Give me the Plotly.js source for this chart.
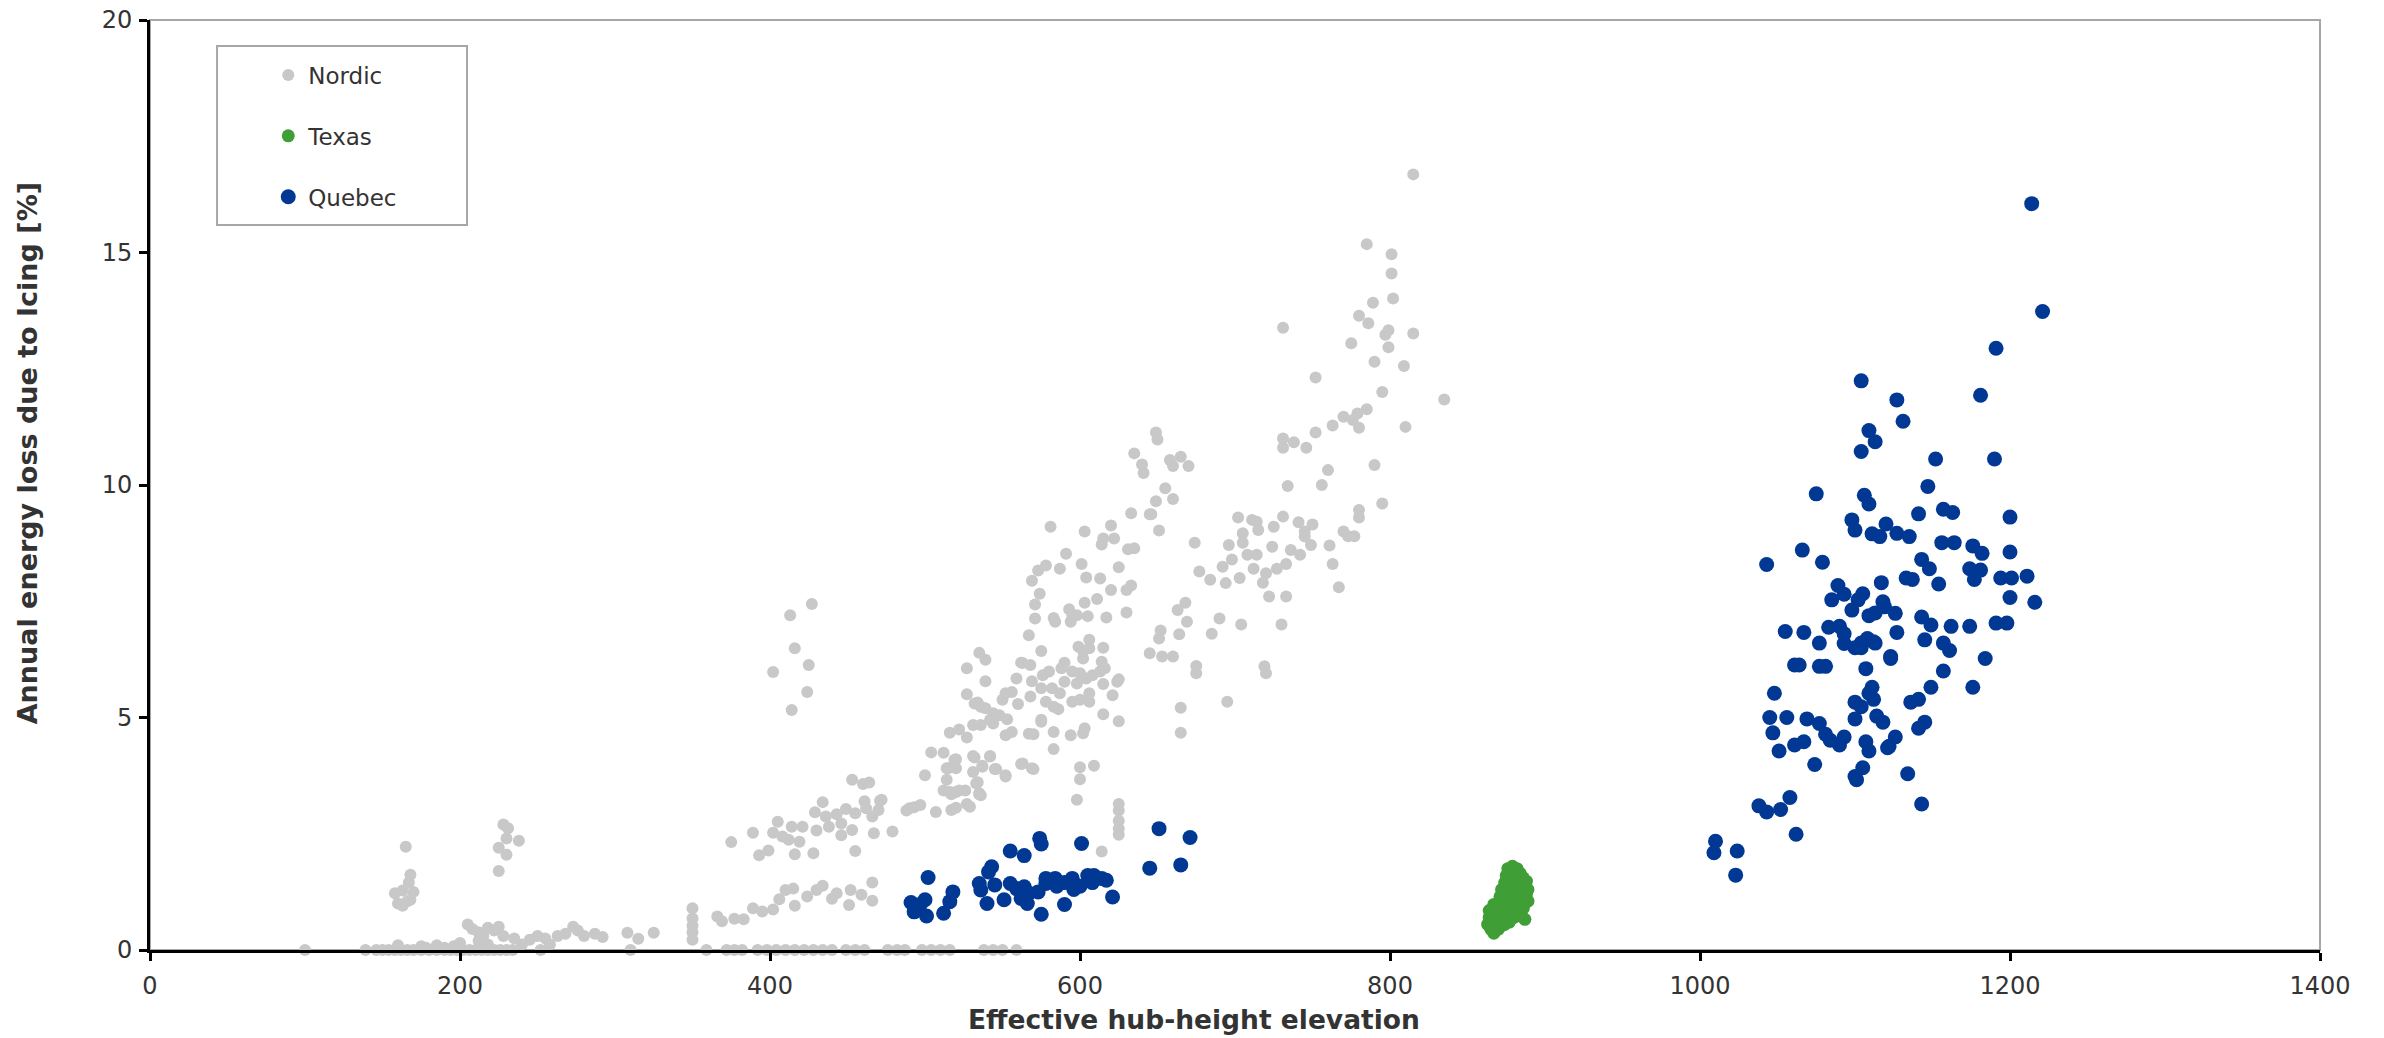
<!DOCTYPE html>
<html>
<head>
<meta charset="utf-8">
<script src="https://cdn.plot.ly/plotly-3.0.1.min.js"></script>
<style>html,body{margin:0;padding:0;background:#fff;}#chart{width:2384px;height:1038px;}</style>
</head>
<body>
<div id="chart"></div>
<script>
// ---------------- Data ----------------
const seriesNames = ["Nordic", "Texas", "Quebec"];

const nordicElev = [
  100,139,146,150,154,158,162,166,170,175,180,185,190,194,198,202,206,210,214,218,222,226,230,234,252,310,359,372,377,382,392,398,404,410,416,422,428,434,440,449,455,461,476,482,487,498,504,510,516,538,544,550,559,
  165,168,167,163,170,160,163,168,166,158,160,175,178,185,190,200,205,208,212,215,218,222,225,228,212,218,196,235,240,245,250,255,258,263,268,273,276,280,287,292,308,315,325,228,231,230,238,225,230,225,
  350,350,350,350,350,366,369,377,383,389,395,402,406,410,415,416,424,430,434,440,443,451,452,459,466,466,
  375,389,393,399,402,405,408,412,414,416,419,421,429,430,428,434,436,438,443,446,446,449,453,453,455,455,460,461,462,464,466,467,470,471,472,479,
  413,427,416,425,402,424,414,
  488,490,493,497,500,504,507,512,512,514,514,515,516,517,517,519,520,520,520,522,522,516,526,527,527,529,531,532,533,534,535,536,537,535,537,542,542,545,546,552,552,531,520,
  527,527,535,539,539,534,539,544,548,553,542,536,531,544,532,536,550,552,556,559,560,563,562,567,568,568,569,569,571,571,573,
  562,570,563,569,567,552,556,570,575,575,575,576,575,574,578,580,582,583,583,583,584,583,586,587,587,578,581,588,590,590,591,593,594,594,595,595,595,598,598,599,600,600,600,600,601,602,602,602,603,603,603,604,604,605,606,606,606,606,608,609,611,613,613,614,614,615,615,615,615,616,617,620,620,621,622,624,625,625,625,625,598,
  630,631,633,630,633,635,635,640,641,645,645,646,649,649,650,651,651,652,653,655,658,660,660,660,663,664,665,665,665,668,669,670,674,675,675,677,684,685,690,692,694,695,696,698,
  625,625,625,625,614,
  705,705,711,714,715,724,725,731,731,731,731,738,746,745,749,752,752,734,760,763,770,775,776,777,779,780,780,780,780,785,785,786,789,790,790,795,795,797,799,799,801,801,802,809,810,815,815,835,
  702,708,712,703,718,722,704,719,720,733,736,741,750,742,756,761,763,767,770,773,730,714,720,727,733,745
];
const nordicLoss = [
  0,0,0,0,0,0,0,0,0,0,0,0,0,0,0,0,0,0,0,0,0,0,0,0,0,0,0,0,0,0,0,0,0,0,0,0,0,0,0,0,0,0,0,0,0,0,0,0,0,0,0,0,0,
  2.22,1.62,1.45,1.28,1.25,1.0,0.95,1.08,1.05,1.22,0.1,0.08,0.05,0.1,0.05,0.15,0.55,0.45,0.38,0.3,0.48,0.42,0.5,0.3,0.2,0.12,0.08,0.25,0.12,0.22,0.3,0.25,0.12,0.3,0.35,0.5,0.42,0.3,0.35,0.28,0.37,0.24,0.37,2.7,2.62,2.4,2.35,2.2,2.05,1.7,
  0.9,0.68,0.52,0.38,0.22,0.72,0.62,0.67,0.66,0.9,0.83,0.87,1.09,1.29,1.32,0.95,1.15,1.29,1.38,1.1,1.22,0.97,1.29,1.19,1.45,1.06,
  2.32,2.52,2.04,2.14,2.52,2.76,2.44,2.37,2.65,2.06,2.33,2.65,2.96,2.57,2.08,3.18,2.87,2.65,2.92,2.72,2.47,3.03,3.66,2.58,2.94,2.13,3.57,3.2,3.05,3.6,2.87,2.51,3.01,3.21,3.23,2.55,
  7.2,7.44,6.49,6.13,5.98,5.55,5.16,
  3.0,3.05,3.07,3.12,3.76,4.25,2.97,4.24,3.43,3.91,3.66,3.91,3.4,3.35,3.01,4.09,3.91,3.4,3.06,4.74,3.43,4.67,3.43,3.14,4.57,3.08,3.83,4.14,3.58,3.61,3.35,3.33,3.94,3.37,3.96,4.16,4.17,3.89,3.89,3.73,3.76,4.17,4.1,
  5.5,6.06,6.39,6.24,5.78,5.32,5.2,5.09,5.05,4.96,4.95,4.84,4.84,4.87,5.3,5.23,5.38,5.52,5.55,5.84,5.29,6.17,6.18,6.77,6.13,5.45,5.78,7.94,7.43,7.13,8.16,
  4.0,3.89,4.01,3.91,4.65,4.62,4.69,4.64,4.91,4.95,5.63,5.91,6.43,7.66,5.34,5.99,5.63,5.23,4.69,7.14,7.06,4.32,5.18,5.52,8.2,8.27,9.1,6.06,6.18,5.77,8.52,7.33,7.06,4.62,7.2,5.99,5.34,7.2,5.73,6.52,5.95,5.38,3.93,3.67,8.3,6.43,6.27,4.66,4.77,9.0,7.47,8.01,5.84,7.18,6.67,6.49,5.34,5.52,5.91,3.96,7.55,5.99,7.99,8.72,6.2,6.5,5.72,5.07,8.85,6.06,7.15,7.74,9.13,5.48,8.85,5.77,5.82,8.23,4.92,3.14,3.23,
  7.74,8.62,7.84,7.26,9.39,8.64,10.68,10.44,10.26,9.37,6.38,9.37,9.65,11.13,10.98,9.02,6.7,6.87,6.31,9.93,10.54,9.7,10.41,6.31,7.31,6.79,10.61,5.21,4.67,7.47,7.06,10.41,8.76,6.11,5.95,8.14,7.96,6.8,7.13,8.24,7.89,5.34,8.71,8.4,
  3.0,2.78,2.61,2.48,2.12,
  8.96,8.76,9.25,9.21,9.03,8.67,9.1,9.32,13.38,11.0,10.8,10.92,10.8,8.89,8.71,12.31,11.13,9.98,10.32,11.28,11.47,13.05,11.4,8.9,11.54,13.64,11.23,9.46,9.3,15.18,11.63,13.48,13.92,12.65,10.43,12.0,9.6,13.23,13.33,12.96,14.96,14.55,14.01,12.56,11.25,16.68,13.26,11.84,
  9.3,8.5,8.2,8.0,7.9,7.6,7.0,6.1,5.95,8.3,8.6,9.2,9.15,8.5,10.0,8.7,8.3,7.8,9.0,8.9,7.0,8.5,8.1,8.2,7.6,9.0
];

const texasElev = [
  863,864,864,865,866,866,867,868,868,868,869,870,870,870,871,871,872,872,873,873,873,874,874,875,875,875,876,876,876,877,877,877,878,878,878,879,879,879,880,880,880,881,881,881,882,882,882,883,883,883,884,884,884,885,885,885,886,886,886,887,887,887,888,888,889,889,871,874,869,867,866
];
const texasLoss = [
  0.55,0.7,0.85,0.45,0.62,0.78,0.36,0.5,0.68,0.9,0.58,0.75,1.0,0.45,0.62,1.15,0.85,1.3,0.55,0.72,1.05,1.45,0.9,0.65,1.2,1.6,0.8,1.35,1.75,0.6,1.0,1.5,0.75,1.15,1.68,0.9,1.3,1.8,0.7,1.05,1.45,1.2,1.62,0.85,1.0,1.35,1.75,0.78,1.15,1.52,1.28,0.95,1.65,1.1,1.42,0.72,1.25,1.55,0.9,1.05,1.38,0.66,1.2,1.48,1.3,1.05,0.5,0.55,0.82,0.98,0.88
];

const quebecElev = [
  491,495,500,501,493,502,512,516,518,497,
  543,541,555,564,574,575,535,536,540,545,555,559,564,567,573,578,584,551,562,566,575,578,585,590,595,600,601,605,609,614,617,621,645,651,665,671,590,596,608,
  1010,1009,1024,1023,1038,1043,1052,1058,1062,1101,1104,1109,1113,1104,1075,1106,1109,1098,1100,1120,1127,1066,1043,1079,1117,1085,1105,1102,1098,1118,1119,1126,1109,1055,1083,1093,1104,1108,1113,1104,1123,1061,1064,
  1214,1221,1191,1127,1181,1131,1152,1190,1147,1141,1157,1163,1200,1111,1116,1135,1156,1164,1143,1176,1182,1200,1148,1174,1177,1181,1154,1194,1201,1211,1133,1137,1089,1093,1200,1216,1113,1090,1093,1143,1149,1127,1162,1174,1191,1198,1067,1112,1077,1145,1100,1157,1161,1184,1123,1157,1107,1077,1081,1111,1109,1112,1176,1149,1100,1104,1136,1141,1118,1114,1069,1056,1048,1077,1100,1045,1067,1061,1081,1084,1051,1047,1126,1122,1093,1090,1107,1109,1141,1145,1121,1074,1100,1105,1134,1143
];
const quebecLoss = [
  1.02,0.93,1.08,0.73,0.82,1.56,0.79,1.04,1.25,0.98,
  1.79,1.68,2.13,2.03,2.4,2.28,1.43,1.29,1.0,1.4,1.43,1.32,1.36,1.22,1.25,1.43,1.54,1.08,1.11,1.0,0.77,1.54,1.37,0.98,1.54,1.37,2.29,1.6,1.6,1.54,1.5,1.14,1.76,2.61,1.83,2.42,1.45,1.3,1.45,
  2.34,2.09,2.13,1.61,3.1,2.97,3.02,3.28,2.49,3.66,12.24,11.17,10.93,10.72,9.81,9.78,9.59,9.25,9.03,9.16,8.96,8.6,8.29,8.34,7.9,7.53,7.66,7.53,7.31,7.49,7.38,7.24,7.19,6.85,6.94,6.59,6.6,6.7,6.6,6.5,6.31,6.13,6.13,
  16.05,13.73,12.94,11.83,11.93,11.37,10.56,10.56,9.97,9.38,9.48,9.41,9.31,8.95,8.89,8.89,8.76,8.76,8.4,8.69,8.53,8.56,8.2,8.2,7.97,8.17,7.87,8.0,8.0,8.04,8.0,7.97,7.84,7.65,7.58,7.48,7.25,6.96,6.8,7.16,6.99,6.83,6.96,6.96,7.03,7.03,6.83,6.63,6.6,6.67,6.5,6.6,6.44,6.27,6.27,6.0,6.05,6.1,6.1,5.65,5.52,5.39,5.65,5.65,5.33,5.23,5.33,5.39,4.9,5.03,4.97,5.0,5.52,4.87,4.97,5.0,4.48,4.41,4.64,4.51,4.28,4.67,4.58,4.38,4.58,4.41,4.48,4.28,4.77,4.9,4.35,3.99,3.73,3.92,3.79,3.14
];

const xTickVals = [0, 200, 400, 600, 800, 1000, 1200, 1400];
const yTickVals = [0, 5, 10, 15, 20];
const xTitle = "Effective hub-height elevation";
const yTitle = "Annual energy loss due to Icing [%]";

// ---------------- Chart ----------------
const FONT = "DejaVu Sans, Verdana, sans-serif";
const TXT = "#333333";

const traces = [
  {x: nordicElev, y: nordicLoss, name: seriesNames[0], legendgroup: "g1", color: "#c8c8c8", size: 12},
  {x: texasElev, y: texasLoss, name: seriesNames[1], legendgroup: "g2", color: "#3f9e35", size: 13},
  {x: quebecElev, y: quebecLoss, name: seriesNames[2], legendgroup: "g3", color: "#003893", size: 15}
].map(t => ({
  type: "scatter", mode: "markers", x: t.x, y: t.y, name: t.name, legendgroup: t.legendgroup,
  cliponaxis: false, hoverinfo: "x+y+name",
  marker: {color: t.color, size: t.size, line: {width: 0}}
}));

const axisCommon = {
  showgrid: false, zeroline: false, showline: true, linecolor: "#000", linewidth: 3,
  ticks: "outside", ticklen: 8, tickwidth: 3, tickcolor: "#000",
  tickfont: {family: FONT, size: 24, color: TXT}
};

const layout = {
  width: 2384, height: 1038,
  margin: {l: 150, r: 64, t: 20, b: 88},
  paper_bgcolor: "#fff", plot_bgcolor: "#fff",
  font: {family: FONT, color: TXT},
  showlegend: true,
  legend: {
    x: 0.0545, y: 0.964, xanchor: "left", yanchor: "top",
    bgcolor: "rgba(0,0,0,0)", borderwidth: 0,
    font: {family: FONT, size: 23, color: TXT},
    tracegroupgap: 28, itemsizing: "trace"
  },
  xaxis: Object.assign({}, axisCommon, {
    range: [0, 1400], tickmode: "array", tickvals: xTickVals, ticklabelstandoff: 4
  }),
  yaxis: Object.assign({}, axisCommon, {
    range: [0, 20], tickmode: "array", tickvals: yTickVals, ticklabelstandoff: 2
  }),
  annotations: [
    {text: xTitle, xref: "paper", yref: "paper", x: 0.4809, y: -0.0742,
     xanchor: "center", yanchor: "middle", showarrow: false,
     font: {family: FONT, size: 26.5, color: TXT, weight: "bold"}},
    {text: yTitle, xref: "paper", yref: "paper", x: -0.0567, y: 0.534, textangle: -90,
     xanchor: "center", yanchor: "middle", showarrow: false,
     font: {family: FONT, size: 27, color: TXT, weight: "bold"}}
  ],
  shapes: [
    {type: "rect", xref: "paper", yref: "paper", x0: 0, x1: 1, y0: 0, y1: 1,
     line: {color: "#a6a6a6", width: 2}, layer: "below"},
    {type: "rect", xref: "paper", yref: "paper", x0: 0.0309, x1: 0.1461, y0: 0.7796, y1: 0.972,
     line: {color: "#a6a6a6", width: 2}, fillcolor: "#fff", layer: "below"}
  ]
};

Plotly.newPlot("chart", traces, layout, {displayModeBar: false, staticPlot: true});
</script>
</body>
</html>
